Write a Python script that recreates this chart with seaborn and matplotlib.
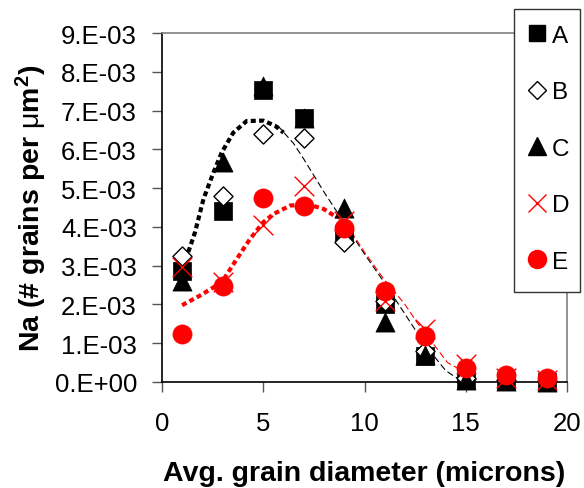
import matplotlib
matplotlib.use("Agg")
import matplotlib.pyplot as plt
import seaborn as sns
import pandas as pd
from matplotlib.lines import Line2D
from matplotlib.patches import Rectangle

# ---- data (values in units of 1e-3) ----
diam = [1, 3, 5, 7, 9, 11, 13, 15, 17, 19]
A = [2.87, 4.42, 7.53, 6.80, 3.81, 2.01, 0.68, 0.05, 0.03, 0.00]
B = [3.24, 4.80, 6.39, 6.28, 3.62, 2.10, 0.80, 0.10, 0.05, 0.02]
C = [2.61, 5.68, 7.64, 6.80, 4.48, 1.55, 0.70, 0.05, 0.03, 0.00]
D = [2.96, 2.57, 4.05, 5.06, 4.15, 2.10, 1.37, 0.46, 0.10, 0.05]
E = [1.24, 2.48, 4.74, 4.53, 3.97, 2.35, 1.19, 0.36, 0.18, 0.10]

# fitted trend curves
fitK_x_thick = [1.0, 1.35, 1.63, 2.05, 2.54, 2.95, 3.52, 4.18, 5.0, 5.58, 6.0]
fitK_y_thick = [2.95, 3.43, 3.86, 4.72, 5.40, 5.92, 6.43, 6.73, 6.74, 6.61, 6.43]
fitK_x_thin = [5.7, 6.5, 7.0, 8.0, 9.0, 10.0, 11.0, 12.0, 13.0, 14.0, 14.5, 15.0]
fitK_y_thin = [6.62, 6.15, 5.75, 4.90, 4.10, 3.30, 2.55, 1.75, 0.95, 0.30, 0.12, 0.05]
fitR_x_thick = [0.99, 1.88, 2.95, 3.69, 4.35, 5.0, 5.5, 6.33, 7.16, 7.99, 8.65]
fitR_y_thick = [1.98, 2.23, 2.57, 3.17, 3.69, 4.12, 4.33, 4.55, 4.59, 4.46, 4.24]
fitR_x_thin = [8.65, 9.15, 10.0, 10.96, 12.0, 12.6, 13.3, 14.1, 15.0, 15.7]
fitR_y_thin = [4.24, 4.03, 3.35, 2.65, 2.00, 1.53, 1.05, 0.50, 0.24, 0.00]

yticks = [0, 1, 2, 3, 4, 5, 6, 7, 8, 9]
ytick_labels = ["0.E+00", "1.E-03", "2.E-03", "3.E-03", "4.E-03",
                "5.E-03", "6.E-03", "7.E-03", "8.E-03", "9.E-03"]
xticks = [0, 5, 10, 15, 20]
series_names = ["A", "B", "C", "D", "E"]

sns.set_theme(style="white")
plt.rcParams["font.family"] = ["Liberation Sans", "DejaVu Sans"]
plt.rcParams["mathtext.fontset"] = "custom"
plt.rcParams["mathtext.rm"] = "Liberation Sans"
plt.rcParams["mathtext.it"] = "Liberation Sans:italic"
plt.rcParams["mathtext.bf"] = "Liberation Sans:bold"
for k in ["text.color", "axes.labelcolor", "xtick.labelcolor", "ytick.labelcolor"]:
    plt.rcParams[k] = "black"

fig = plt.figure(figsize=(5.84, 4.89), dpi=100)
ax = fig.add_axes([162/584, 1-383/489, (567-162)/584, (383-34)/489])

# fit curves
sns.lineplot(x=fitK_x_thick, y=fitK_y_thick, ax=ax, color="black", lw=3,
             linestyle=(0, (1.2, 0.8)), sort=False, zorder=2)
sns.lineplot(x=fitK_x_thin, y=fitK_y_thin, ax=ax, color="black", lw=0.8,
             linestyle=(0, (6, 3)), sort=False, zorder=2)
sns.lineplot(x=fitR_x_thick, y=fitR_y_thick, ax=ax, color="red", lw=3,
             linestyle=(0, (1.2, 0.8)), sort=False, zorder=2)
sns.lineplot(x=fitR_x_thin, y=fitR_y_thin, ax=ax, color="red", lw=0.8,
             linestyle=(0, (6, 3)), sort=False, zorder=2)

styles = {
    "A": dict(marker="s", s=150, color="black", edgecolor="black", linewidth=0.5),
    "B": dict(marker="D", s=95, color="white", edgecolor="black", linewidth=1.0),
    "C": dict(marker="^", s=190, color="black", edgecolor="black", linewidth=0.5),
    "D": dict(marker="x", s=200, color="red", linewidth=1.0),
    "E": dict(marker="o", s=190, color="red", edgecolor="red", linewidth=0.5),
}
data = {"A": A, "B": B, "C": C, "D": D, "E": E}
for i, name in enumerate(series_names):
    df = pd.DataFrame({"x": diam, "y": data[name]})
    sns.scatterplot(data=df, x="x", y="y", ax=ax, zorder=3 + i, clip_on=False,
                    legend=False, **styles[name])

ax.set_xlim(0, 20)
ax.set_ylim(0, 9)
ax.set_xticks(xticks)
ax.set_xticklabels([str(v) for v in xticks], fontsize=18.5)
ax.set_yticks(yticks)
ax.set_yticklabels(ytick_labels, fontsize=18.5)
ax.tick_params(axis="both", direction="out", length=7, width=1, color="#555555",
               labelcolor="black", bottom=True, left=True)
ax.tick_params(axis="y", pad=11)
ax.tick_params(axis="x", pad=14)
for side in ["left", "bottom"]:
    ax.spines[side].set_color("black")
    ax.spines[side].set_linewidth(1.2)
for side in ["top", "right"]:
    ax.spines[side].set_color("#808080")
    ax.spines[side].set_linewidth(1.2)

ax.set_xlabel("Avg. grain diameter (microns)", fontsize=20.5, fontweight="bold",
              labelpad=18)
ax.set_ylabel(r"Na (# grains per $\mathrm{\mu}$m$^\mathbf{2}$)", fontsize=20.5,
              fontweight="bold", labelpad=4)

# legend box (frame drawn in figure coordinates)
fig.patches.append(Rectangle((514/584, 1-293/489), 66/584, 283/489,
                             transform=fig.transFigure, facecolor="white",
                             edgecolor="#333333", linewidth=1.0, zorder=4))
handles = [
    Line2D([], [], linestyle="none", marker="s", markersize=12, color="black"),
    Line2D([], [], linestyle="none", marker="D", markersize=9, markerfacecolor="white",
           markeredgecolor="black", markeredgewidth=1),
    Line2D([], [], linestyle="none", marker="^", markersize=13, color="black"),
    Line2D([], [], linestyle="none", marker="x", markersize=13, color="red",
           markeredgewidth=1),
    Line2D([], [], linestyle="none", marker="o", markersize=13, color="red"),
]
leg = fig.legend(handles, series_names, loc="upper left",
                 bbox_to_anchor=(514/584, 1-10/489), bbox_transform=fig.transFigure,
                 fontsize=17.5, frameon=False,
                 borderaxespad=0, handlelength=0.6, handletextpad=0.32,
                 labelspacing=1.42, borderpad=0.65)
leg.set_zorder(6)

fig.savefig("out.png", dpi=100)
